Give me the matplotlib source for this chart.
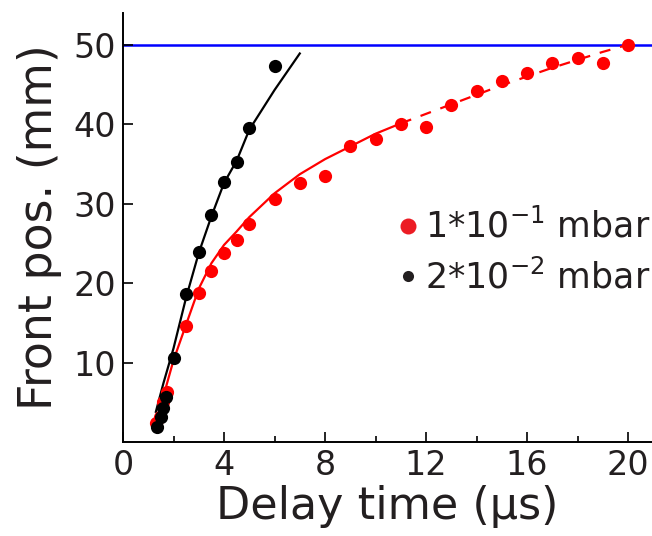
import matplotlib
matplotlib.use("Agg")
import matplotlib.pyplot as plt
from matplotlib.lines import Line2D
from matplotlib.ticker import MultipleLocator

TXT = "#231f20"

# 1*10^-1 mbar measurements
red_t = [1.3, 1.45, 1.6, 1.75, 2.5, 3.0, 3.5, 4.0, 4.5, 5.0, 6.0, 7.0, 8.0, 9.0,
         10.0, 11.0, 12.0, 13.0, 14.0, 15.0, 16.0, 17.0, 18.0, 19.0, 20.0]
red_x = [2.4, 3.2, 5.0, 6.3, 14.6, 18.8, 21.5, 23.8, 25.4, 27.5, 30.6, 32.6, 33.5, 37.2,
         38.1, 40.0, 39.6, 42.4, 44.2, 45.5, 46.4, 47.7, 48.3, 47.7, 50.0]

# 2*10^-2 mbar measurements
blk_t = [1.35, 1.5, 1.6, 1.7, 2.0, 2.5, 3.0, 3.5, 4.0, 4.5, 5.0, 6.0]
blk_x = [1.9, 3.1, 4.3, 5.7, 10.6, 18.6, 23.9, 28.6, 32.7, 35.2, 39.5, 47.3]

# fit curves
red_fit_t = [1.4, 2.0, 2.5, 3.0, 3.5, 4.0, 4.5, 5.0, 6.0, 7.0, 8.0, 9.0, 10.0, 11.0]
red_fit_x = [3.5, 10.3, 14.8, 19.3, 22.5, 24.8, 26.5, 28.3, 31.3, 33.7, 35.6, 37.2, 38.8, 40.1]
red_ext_t = [11.0, 12.0, 13.0, 14.0, 15.0, 16.0, 17.0, 18.0, 19.0, 20.0]
red_ext_x = [40.1, 41.3, 42.5, 43.7, 44.9, 46.0, 47.1, 48.1, 49.1, 50.0]
blk_fit_t = [1.3, 1.6, 2.0, 2.5, 3.0, 3.5, 4.0, 4.5, 5.0, 6.0, 7.0]
blk_fit_x = [3.8, 7.4, 11.8, 18.2, 23.8, 28.4, 32.6, 35.4, 39.3, 44.3, 48.9]

wall = 50

fig = plt.figure(figsize=(6.52, 5.36), dpi=100)
ax = fig.add_axes([0.1887, 0.1754, 0.8113, 0.8004])

ax.axhline(wall, color="#0000ff", lw=1.8, zorder=1)
ax.plot(red_fit_t, red_fit_x, color="#ff0000", lw=1.6, zorder=2)
ax.plot(red_ext_t, red_ext_x, color="#ff0000", lw=1.6, ls=(0, (5, 4.5)), zorder=2)
ax.plot(blk_fit_t, blk_fit_x, color="black", lw=1.6, zorder=2)
ax.plot(red_t, red_x, "o", color="#ff0000", ms=9.5, mec="none", zorder=3)
ax.plot(blk_t, blk_x, "o", color="black", ms=9.5, mec="none", zorder=4)

ax.set_xlim(0, 20.95)
ax.set_ylim(0, 54)
ax.xaxis.set_major_locator(MultipleLocator(4))
ax.xaxis.set_minor_locator(MultipleLocator(2))
ax.set_yticks([10, 20, 30, 40, 50])

for s in ["top", "right"]:
    ax.spines[s].set_visible(False)
for s in ["left", "bottom"]:
    ax.spines[s].set_linewidth(1.4)
    ax.spines[s].set_color("black")

ax.tick_params(which="major", direction="in", length=7, width=1.2, labelsize=24,
               labelcolor=TXT, pad=5)
ax.tick_params(which="minor", direction="in", length=4, width=1.2)

ax.set_xlabel("Delay time (\u03bcs)", fontsize=32, color=TXT, labelpad=2)
ax.set_ylabel("Front pos. (mm)", fontsize=33, color=TXT, labelpad=8)

handles = [
    Line2D([], [], ls="none", marker="o", color="#ec1c24", ms=11.5, mec="none"),
    Line2D([], [], ls="none", marker="o", color=TXT, ms=8, mec="none"),
]
labels = [r"1*10$^{\mathregular{-1}}$ mbar", r"2*10$^{\mathregular{-2}}$ mbar"]
leg = ax.legend(handles, labels, loc="center left", bbox_to_anchor=(0.61, 0.53),
                bbox_transform=fig.transFigure, frameon=False, fontsize=25,
                handlelength=0.6, handletextpad=0.2, borderpad=0,
                borderaxespad=0, labelspacing=0.4)
for t in leg.get_texts():
    t.set_color(TXT)

fig.savefig("out.png", dpi=100)
